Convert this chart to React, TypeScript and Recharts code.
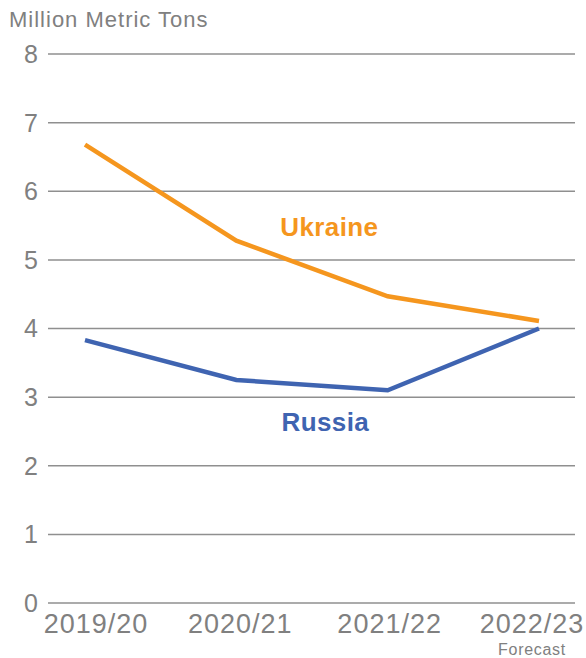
import { CartesianGrid, LabelList, Line, LineChart, XAxis, YAxis } from "recharts";

const seasons = ["2019/20", "2020/21", "2021/22", "2022/23"];
const ukraine = [6.68, 5.28, 4.47, 4.11];
const russia = [3.83, 3.25, 3.1, 4.0];
const yTicks = [0, 1, 2, 3, 4, 5, 6, 7, 8];

const ORANGE = "#F5961E";
const BLUE = "#3F64B1";
const GREY = "#808080";
const FONT = "'Liberation Sans', Arial, Helvetica, sans-serif";

// tick labels in the original sit a little off their points
const tickNudge = [11, 4, 2, -7];

const data = seasons.map((season, i) => ({ season, ukraine: ukraine[i], russia: russia[i] }));

function SeasonTick({ x, y, payload, index }: any) {
  const cx = x + (tickNudge[index] ?? 0);
  return (
    <g>
      <text x={cx} y={y} dy="0.71em" textAnchor="middle" fontSize={27} fill={GREY} fontFamily={FONT} letterSpacing={1}>
        {payload.value}
      </text>
      {index === seasons.length - 1 && (
        <text x={cx} y={y + 41} textAnchor="middle" fontSize={16} fill={GREY} fontFamily={FONT} letterSpacing={0.7}>
          Forecast
        </text>
      )}
    </g>
  );
}

function seriesLabel(name: string, color: string, dx: number, dy: number) {
  return (props: any) => {
    if (props.index !== 1) return null;
    return (
      <text x={props.x + dx} y={props.y + dy} textAnchor="middle" fontSize={26} fontWeight="bold" fill={color} fontFamily={FONT} letterSpacing={0.4}>
        {name}
      </text>
    );
  };
}

export default function App() {
  return (
    <div style={{ position: "absolute", left: 0, top: 0, width: 586, height: 658, background: "#fff", fontFamily: FONT }}>
      <div style={{ position: "absolute", left: 9, top: 7, fontSize: 22, color: GREY, letterSpacing: 1 }}>Million Metric Tons</div>
      <LineChart width={586} height={658} data={data} margin={{ top: 54, right: 11, left: 0, bottom: 0 }}>
        <CartesianGrid vertical={false} stroke="#8f8f8f" strokeWidth={1.5} />
        <XAxis
          dataKey="season"
          height={55}
          axisLine={false}
          tickLine={false}
          tickMargin={5}
          padding={{ left: 37, right: 36 }}
          tick={<SeasonTick />}
          interval={0}
        />
        <YAxis
          width={48}
          domain={[0, 8]}
          ticks={yTicks}
          axisLine={false}
          tickLine={false}
          tickMargin={4}
          tick={{ fontSize: 25, fill: GREY, fontFamily: FONT }}
        />
        <Line type="linear" dataKey="ukraine" stroke={ORANGE} strokeWidth={4.5} dot={false} isAnimationActive={false}>
          <LabelList content={seriesLabel("Ukraine", ORANGE, 93, -5)} />
        </Line>
        <Line type="linear" dataKey="russia" stroke={BLUE} strokeWidth={4.5} dot={false} isAnimationActive={false}>
          <LabelList content={seriesLabel("Russia", BLUE, 89, 51)} />
        </Line>
      </LineChart>
    </div>
  );
}
